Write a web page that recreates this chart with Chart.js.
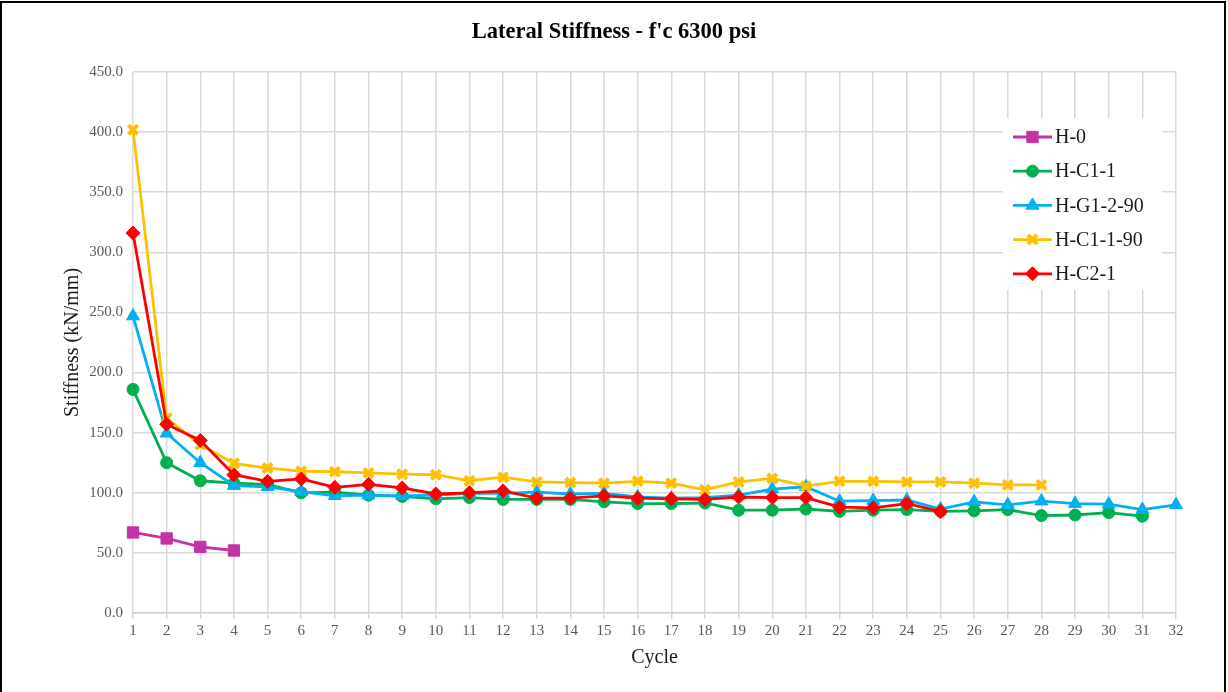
<!DOCTYPE html>
<html>
<head>
<meta charset="utf-8">
<title>Lateral Stiffness - f'c 6300 psi</title>
<script src="https://cdn.jsdelivr.net/npm/chart.js@4"></script>
<style>
  html, body { margin: 0; padding: 0; background: #fff; }
  #frame {
    position: absolute; left: 0; top: 1px; width: 1226px; height: 691px;
    border: 2px solid #000; border-bottom: none; box-sizing: border-box;
  }
  canvas { position: absolute; left: 0; top: 0; }
</style>
</head>
<body>
<div id="frame"></div>
<canvas id="chart" width="1228" height="692"></canvas>
<script>
// Loading cycles 1..32
const cycles = ['1','2','3','4','5','6','7','8','9','10','11','12','13','14','15','16',
                '17','18','19','20','21','22','23','24','25','26','27','28','29','30','31','32'];

// Lateral stiffness per cycle (kN/mm)
const h0 = [67, 62, 55, 52];
const hC1_1 = [186, 125, 110, 108, 107, 100, 100.5, 98, 97, 95, 96, 94.5, 94.5, 94.5, 92.5,
               91, 91, 91.5, 85.5, 85.5, 86.5, 84.5, 85.5, 86, 84.5, 85, 86, 81, 81.5, 83.5, 80.5];
const hG1_2_90 = [247, 149.5, 125, 106, 105, 101, 97.5, 98, 97.5, 98, 99.5, 99.5, 100.5, 99, 99.5,
                  96.5, 95.5, 96, 98, 103, 105, 93, 93.5, 94, 86.5, 92.5, 90, 93, 91, 90.5, 86, 90];
const hC1_1_90 = [402, 162, 140, 124.5, 120.5, 118, 117.5, 116.5, 115.5, 115, 110, 113, 109, 108.5,
                  108, 109.5, 108, 102.5, 109, 112, 105.5, 109.5, 109.5, 109, 109, 108, 106.5, 106.5];
const hC2_1 = [316, 157, 143.5, 115, 109.5, 111.5, 104.5, 107, 104, 99, 100, 101.5, 95.5, 95.5,
               97.5, 95.5, 95, 94.5, 96.5, 96, 96, 88, 87.5, 91, 84.5];

const serif = "'Liberation Serif', 'Times New Roman', serif";

function series(label, data, color, style, radius, order) {
  return {
    label, data,
    borderColor: color, backgroundColor: color,
    pointBackgroundColor: color, pointBorderColor: color,
    borderWidth: 2.8,
    pointStyle: style, pointRadius: radius, pointHoverRadius: radius,
    pointBorderWidth: style === 'crossRot' ? 4 : 1,
    tension: 0, fill: false, order
  };
}

// Line-plus-marker key in a white box at the upper right of the plot
const seriesKey = {
  id: 'seriesKey',
  afterDraw(chart) {
    const { ctx, chartArea } = chart;
    const boxX = chartArea.right - 173, boxY = chartArea.top + 46;
    ctx.save();
    ctx.fillStyle = '#ffffff';
    ctx.fillRect(boxX, boxY, 159, 172);
    chart.data.datasets.forEach((ds, i) => {
      const y = boxY + 19 + i * 34.2;
      const x0 = boxX + 10, x1 = boxX + 49, xm = (x0 + x1) / 2;
      ctx.strokeStyle = ds.borderColor;
      ctx.lineWidth = ds.borderWidth;
      ctx.beginPath(); ctx.moveTo(x0, y); ctx.lineTo(x1, y); ctx.stroke();
      ctx.fillStyle = ds.pointBackgroundColor;
      ctx.strokeStyle = ds.pointBorderColor;
      ctx.lineWidth = ds.pointBorderWidth;
      Chart.helpers.drawPoint(ctx, { pointStyle: ds.pointStyle, radius: ds.pointRadius, rotation: 0, borderWidth: ds.pointBorderWidth }, xm, y);
      ctx.fillStyle = '#1a1a1a';
      ctx.font = '20px ' + serif;
      ctx.textBaseline = 'middle';
      ctx.textAlign = 'left';
      ctx.fillText(ds.label, x1 + 3, y + 1);
    });
    ctx.restore();
  }
};

new Chart(document.getElementById('chart'), {
  type: 'line',
  data: {
    labels: cycles,
    datasets: [
      series('H-0', h0, '#C233A8', 'rect', 8, 5),
      series('H-C1-1', hC1_1, '#00B050', 'circle', 6, 4),
      series('H-G1-2-90', hG1_2_90, '#00B0F0', 'triangle', 7.5, 3),
      series('H-C1-1-90', hC1_1_90, '#FFC000', 'crossRot', 6.5, 2),
      series('H-C2-1', hC2_1, '#FF0000', 'rectRot', 7, 1)
    ]
  },
  options: {
    responsive: false,
    animation: false,
    devicePixelRatio: 1,
    layout: { padding: { left: 0, right: 0, top: 0, bottom: 22 } },
    plugins: {
      legend: { display: false },
      tooltip: { enabled: false },
      title: {
        display: true,
        text: "Lateral Stiffness - f'c 6300 psi",
        color: '#000',
        font: { family: serif, size: 22.5, weight: 'bold', lineHeight: 1.2 },
        padding: { top: 19, bottom: 26 }
      }
    },
    scales: {
      x: {
        type: 'category',
        offset: false,
        grid: { color: '#D9D9D9', lineWidth: 1.5, tickLength: 6, drawTicks: true },
        border: { color: '#D0D0D0', width: 1.5 },
        ticks: { color: '#595959', font: { family: serif, size: 15 }, autoSkip: false, maxRotation: 0, padding: 3 },
        title: { display: true, text: 'Cycle', color: '#1a1a1a', font: { family: serif, size: 20 }, padding: { top: 0, bottom: 0 } },
        afterFit(scale) { scale.height = 57; }
      },
      y: {
        min: 0, max: 450,
        grid: { color: '#D9D9D9', lineWidth: 1.5, drawTicks: false },
        border: { display: false },
        ticks: { stepSize: 50, color: '#595959', font: { family: serif, size: 15 }, padding: 10,
                 callback: v => v.toFixed(1) },
        title: { display: true, text: 'Stiffness (kN/mm)', color: '#1a1a1a', font: { family: serif, size: 20 }, padding: { top: 61, bottom: 0 } },
        afterFit(scale) { scale.width = 133; }
      },
      // empty right-hand margin column of the plot
      yRight: {
        position: 'right',
        min: 0, max: 450,
        grid: { display: false },
        border: { display: false },
        ticks: { display: false },
        afterFit(scale) { scale.width = 52; }
      }
    }
  },
  plugins: [seriesKey]
});
</script>
</body>
</html>
